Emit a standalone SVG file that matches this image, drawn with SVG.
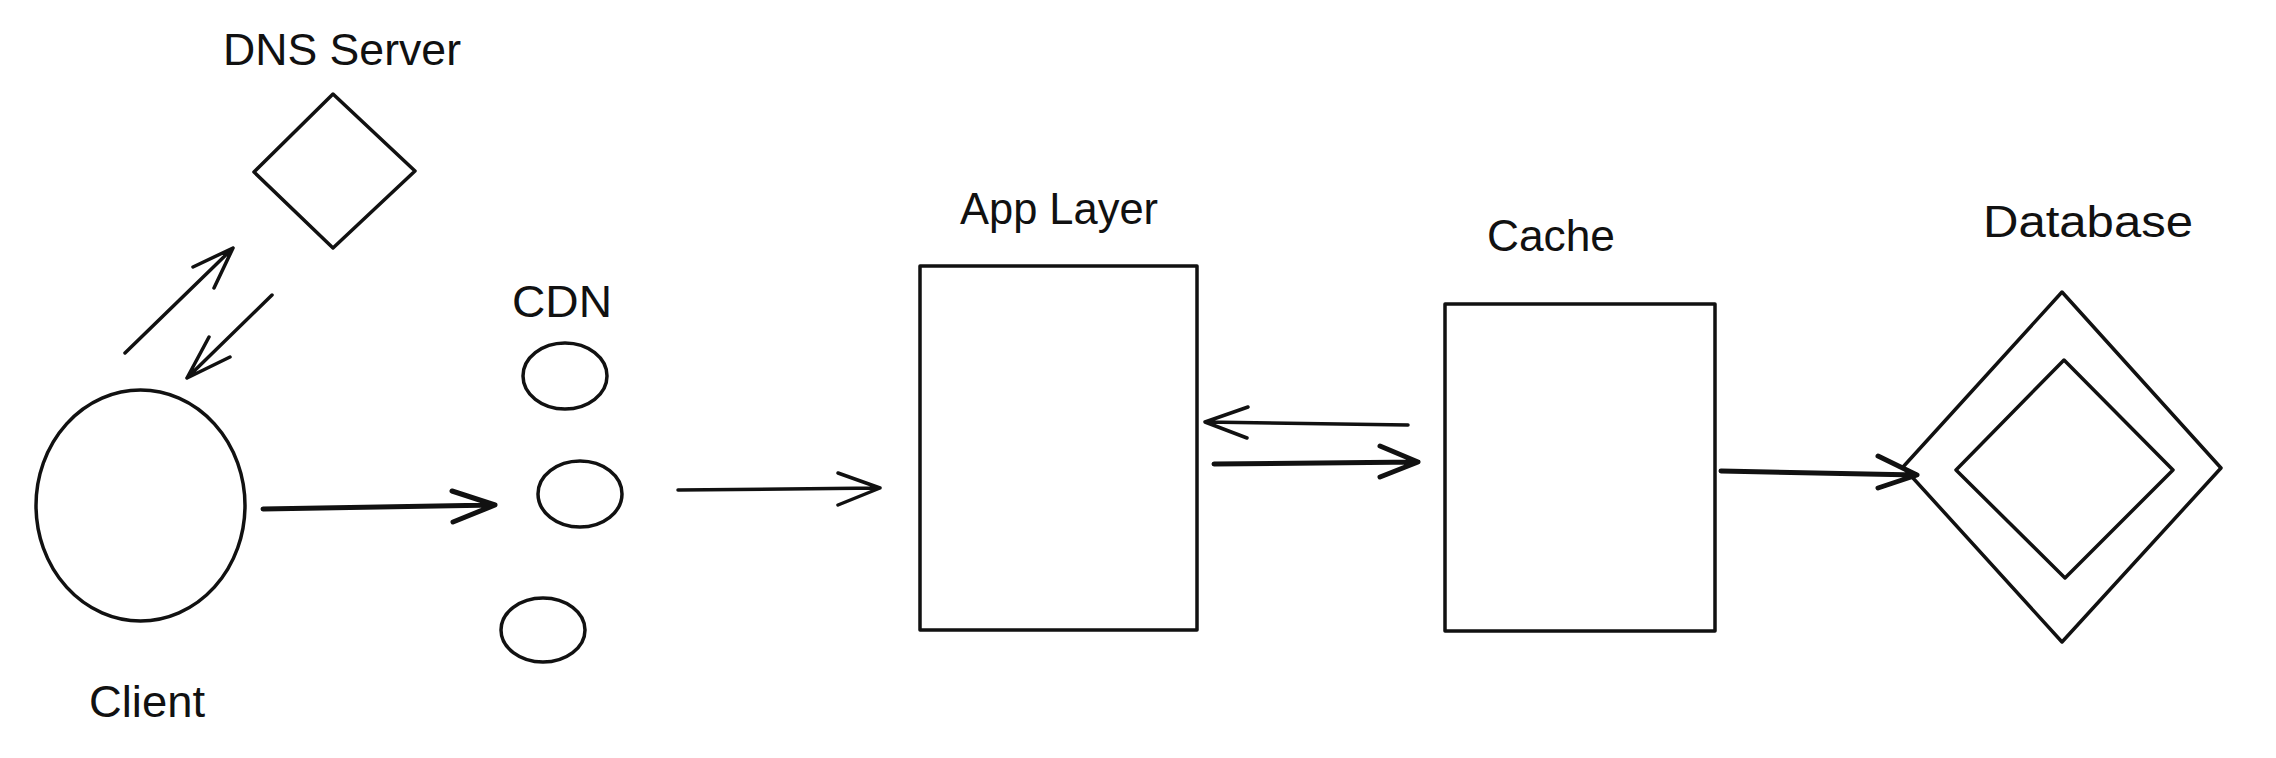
<svg xmlns="http://www.w3.org/2000/svg" width="2276" height="758" viewBox="0 0 2276 758">
<style>
.s{fill:none;stroke:#111;stroke-width:3.5;stroke-linecap:round;stroke-linejoin:round}
.t{stroke-width:5}
.lbl{font-family:"Liberation Sans",Arial,sans-serif;font-size:44px;fill:#111;text-anchor:middle}
</style>
<rect width="2276" height="758" fill="#fff"/>
<g id="dns-server">
<polygon class="s" points="333,94 415,171 333,248 254,172"/>
<text class="lbl" x="342" y="65" textLength="238" lengthAdjust="spacingAndGlyphs">DNS Server</text>
</g>
<g id="client">
<ellipse class="s" cx="140.5" cy="505.5" rx="104.5" ry="115.5"/>
<text class="lbl" x="147" y="717" textLength="116" lengthAdjust="spacingAndGlyphs">Client</text>
</g>
<g id="cdn">
<ellipse class="s" cx="565" cy="376" rx="42" ry="33"/>
<ellipse class="s" cx="580" cy="494" rx="42" ry="33"/>
<ellipse class="s" cx="543" cy="630" rx="42" ry="32"/>
<text class="lbl" x="562" y="317" textLength="100" lengthAdjust="spacingAndGlyphs">CDN</text>
</g>
<g id="app-layer">
<rect class="s" x="920" y="266" width="277" height="364"/>
<text class="lbl" x="1059" y="224" textLength="198" lengthAdjust="spacingAndGlyphs">App Layer</text>
</g>
<g id="cache">
<rect class="s" x="1445" y="304" width="270" height="327"/>
<text class="lbl" x="1551" y="251" textLength="128" lengthAdjust="spacingAndGlyphs">Cache</text>
</g>
<g id="database">
<polygon class="s" points="2062,292 2221,468 2062,642 1903,467"/>
<polygon class="s" points="2064,360 2173,470 2065,578 1956,470"/>
<text class="lbl" x="2088" y="237" textLength="210" lengthAdjust="spacingAndGlyphs">Database</text>
</g>
<g id="connectors">
<path class="s" d="M125,353 L233,248 M193,267 L233,248 L214,288"/>
<path class="s" d="M272,295 L187,378 M209,337 L187,378 L230,357"/>
<path class="s t" d="M263,509 L495,505 M452,491 L495,505 L453,522"/>
<path class="s" d="M678,490 L880,488 M838,473 L880,488 L838,505"/>
<path class="s" d="M1408,425 L1205,422 M1248,407 L1205,422 L1247,438"/>
<path class="s t" d="M1214,464 L1418,462 M1380,446 L1418,462 L1380,477"/>
<path class="s t" d="M1721,471 L1917,475 M1878,456 L1917,475 L1878,488"/>
</g>
</svg>
